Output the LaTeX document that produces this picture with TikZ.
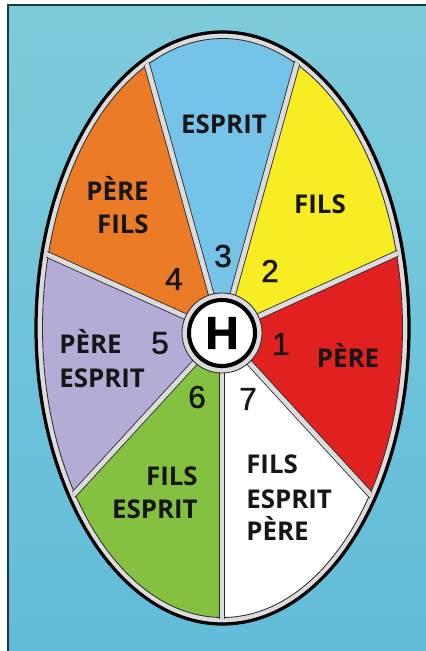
\documentclass[tikz,border=0pt]{standalone}
\usepackage{fontspec}
\setsansfont{Open Sans}
\newfontfamily\digitfont[FakeBold=1.2]{Liberation Sans}
\usetikzlibrary{calc}
\definecolor{ink}{HTML}{161616}
\definecolor{rim}{HTML}{2B2B2B}
\definecolor{sepgray}{HTML}{DCDCDC}
\definecolor{sky}{HTML}{76C3EA}
\definecolor{sun}{HTML}{F8EC22}
\definecolor{blood}{HTML}{E0211F}
\definecolor{leaf}{HTML}{84C141}
\definecolor{lilac}{HTML}{B4ABD6}
\definecolor{amber}{HTML}{EB7B27}
\definecolor{bgtop}{HTML}{7ECBDB}
\definecolor{bgmid}{HTML}{A8DEE8}
\definecolor{bgbot}{HTML}{62BCD9}
\definecolor{frame}{HTML}{1B3A42}

\begin{document}
\begin{tikzpicture}[
    x=0.025cm, y=-0.025cm,
    every node/.style={font=\sffamily},
    word/.style={font=\sffamily\bfseries\fontsize{18.4}{24}\selectfont, text=ink,
                 inner sep=0pt},
    num/.style={font=\digitfont\fontsize{22.5}{22.5}\selectfont, text=ink, inner sep=0pt},
    spoke/.style={draw=rim, line width=0.6pt, double=sepgray, double distance=3.4pt},
    hub/.style={circle, draw=black, line width=2.9pt, fill=white, minimum size=1.65cm,
                inner sep=0pt, font=\digitfont\bfseries\fontsize{32.7}{32.7}\selectfont},
]
\useasboundingbox (0,0) rectangle (426,651);

% background
\shade[top color=bgtop, middle color=bgmid, bottom color=bgbot] (8,5) rectangle (426,651);
\draw[frame, line width=1.4pt] (8,651) -- (8,5) -- (426,5);

% ================================================================ geometry
\coordinate (O)  at (222.5,328);
\coordinate (hc) at (222,333);
\coordinate (p34) at (147,65);
\coordinate (p32) at (296,67);
\coordinate (p21) at (396,254);
\coordinate (p17) at (368,492);
\coordinate (p76) at (222,626);
\coordinate (p65) at (76,492);
\coordinate (p54) at (46,254);

% =============================================================== sectors
\begin{scope}
  \clip (O) ellipse [x radius=184, y radius=293.5];
  \fill[sky]   (hc) -- ($(hc)!2!(p34)$) -- ($(hc)!2!(p32)$) -- cycle;
  \fill[sun]   (hc) -- ($(hc)!2!(p32)$) -- ($(hc)!2!(p21)$) -- cycle;
  \fill[blood] (hc) -- ($(hc)!2!(p21)$) -- ($(hc)!2!(p17)$) -- cycle;
  \fill[white] (hc) -- ($(hc)!2!(p17)$) -- ($(hc)!2!(p76)$) -- cycle;
  \fill[leaf]  (hc) -- ($(hc)!2!(p76)$) -- ($(hc)!2!(p65)$) -- cycle;
  \fill[lilac] (hc) -- ($(hc)!2!(p65)$) -- ($(hc)!2!(p54)$) -- cycle;
  \fill[amber] (hc) -- ($(hc)!2!(p54)$) -- ($(hc)!2!(p34)$) -- cycle;
\end{scope}

% the rim
\draw[sepgray, line width=3.6pt] (O) ellipse [x radius=182.5, y radius=292];
\draw[rim, line width=0.6pt] (O) ellipse [x radius=180, y radius=289.5];

% spokes
\begin{scope}
  \clip (O) ellipse [x radius=181.5, y radius=291];
  \foreach \p in {p34,p32,p21,p17,p76,p65,p54}
    \draw[spoke] (hc) -- ($(hc)!1.1!(\p)$);
\end{scope}

\draw[black, line width=2.3pt] (O) ellipse [x radius=186.5, y radius=296];

% hub
\fill[sepgray, draw=rim, line width=0.6pt] (hc) circle (40);
\node[hub] (H) at (hc) {H};

% =============================================================== labels
\node[word, anchor=base] (l3) at (224,133) {ESPRIT};
\node[word, anchor=base] (l2) at (320,213) {FILS};
\node[word, anchor=base] (l1) at (348,367) {PÈRE};

\node[word, anchor=base east] (l4a) at (149,200) {PÈRE};
\node[word, anchor=base east] (l4b) at (149,233) {FILS};

\node[word, anchor=base west] (l5a) at (59,353) {PÈRE};
\node[word, anchor=base west] (l5b) at (59,387) {ESPRIT};

\node[word, anchor=base east] (l6a) at (198,485) {FILS};
\node[word, anchor=base east] (l6b) at (198,518) {ESPRIT};

\node[word, anchor=base west] (l7a) at (246,473) {FILS};
\node[word, anchor=base west] (l7b) at (246,508) {ESPRIT};
\node[word, anchor=base west] (l7c) at (246,540) {PÈRE};

% numbers
\node[num] (n1) at (281,344) {1};
\node[num] (n2) at (270,271) {2};
\node[num] (n3) at (223,256) {3};
\node[num] (n4) at (174,279) {4};
\node[num] (n5) at (160,343) {5};
\node[num] (n6) at (197,397) {6};
\node[num] (n7) at (248,399) {7};

\end{tikzpicture}
\end{document}
